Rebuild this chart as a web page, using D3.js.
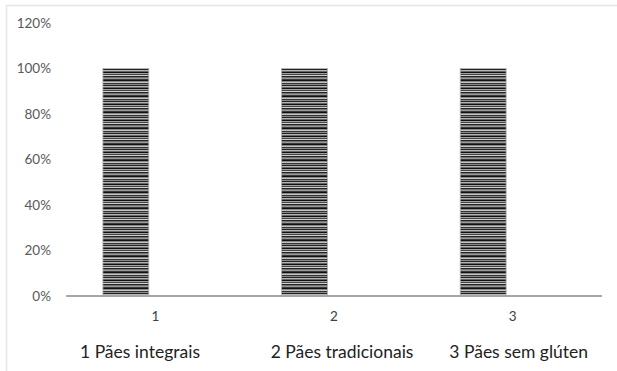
<!DOCTYPE html>
<html><head><meta charset="utf-8">
<script src="https://cdn.jsdelivr.net/npm/d3@7"></script>
<style>body{margin:0;background:#fff}svg{display:block}</style>
</head><body>
<script>
const categories = ["1", "2", "3"];
const values = [1.0, 1.0, 1.0];
const yTicks = [0, 0.2, 0.4, 0.6, 0.8, 1.0, 1.2];
const labels = ["1 Pães integrais", "2 Pães tradicionais", "3 Pães sem glúten"];

const W = 617, H = 371;
const svg = d3.select("body").append("svg").attr("width", W).attr("height", H);
const FONT = "Lato, 'Open Sans', sans-serif";

// border
svg.append("path").attr("d", `M6.5,${H} V5.5 H${W}`).attr("fill","none").attr("stroke","#e6e6e6").attr("stroke-width",1.5);

// stripe pattern
const defs = svg.append("defs");
const pat = defs.append("pattern").attr("id","stripes").attr("patternUnits","userSpaceOnUse")
  .attr("width",10).attr("height",16);
const rows = ["#111","#888","#c4c4c4","#333","#8a8a8a","#222","#b5b5b5","#666","#111","#a0a0a0","#444","#d0d0d0","#222","#777","#999","#3a3a3a"];
rows.forEach((c,i)=>pat.append("rect").attr("x",0).attr("y",i).attr("width",10).attr("height",1).attr("fill",c));

// categories occupy equal thirds of the axis
const x = d3.scaleBand().domain(categories).range([66, 602]);
const y = d3.scaleLinear().domain([0, 1.2]).range([296, 23]);
const barW = x.bandwidth() * 0.257;
const barShift = -x.bandwidth() * 0.165; // bars sit left of the category centre

// y axis labels
svg.append("g").selectAll("text").data(yTicks).join("text")
  .attr("x", 51).attr("y", d=>y(d)).attr("dy","0.35em").attr("text-anchor","end")
  .attr("font-family",FONT).attr("font-size",13.5).attr("fill","#595959")
  .text(d=>d3.format(".0%")(d));

// bars
svg.append("g").selectAll("rect").data(values).join("rect")
  .attr("x",(d,i)=>x(categories[i]) + x.bandwidth()/2 + barShift - barW/2).attr("width",barW)
  .attr("y",d=>y(d)).attr("height",d=>y(0)-y(d))
  .attr("fill","url(#stripes)").attr("stroke","#b0b0b0").attr("stroke-width",0.8);

// x axis line
svg.append("line").attr("x1",x.range()[0]).attr("x2",x.range()[1]).attr("y1",y(0)).attr("y2",y(0))
  .attr("stroke","#a6a6a6").attr("stroke-width",2);

// x tick labels
svg.append("g").selectAll("text").data(categories).join("text")
  .attr("x",d=>x(d)+x.bandwidth()/2).attr("y",316).attr("dy","0.35em").attr("text-anchor","middle")
  .attr("font-family",FONT).attr("font-size",13.5).attr("fill","#404040")
  .text(d=>d);

// category description labels
const offs = [14, 26, 26];
svg.append("g").selectAll("text").data(labels).join("text")
  .attr("x",(d,i)=>x(categories[i])+offs[i]).attr("y",352).attr("dy","0.35em")
  .attr("font-family",FONT).attr("font-size",17.5).attr("fill","#222")
  .text(d=>d);
</script>
</body></html>
